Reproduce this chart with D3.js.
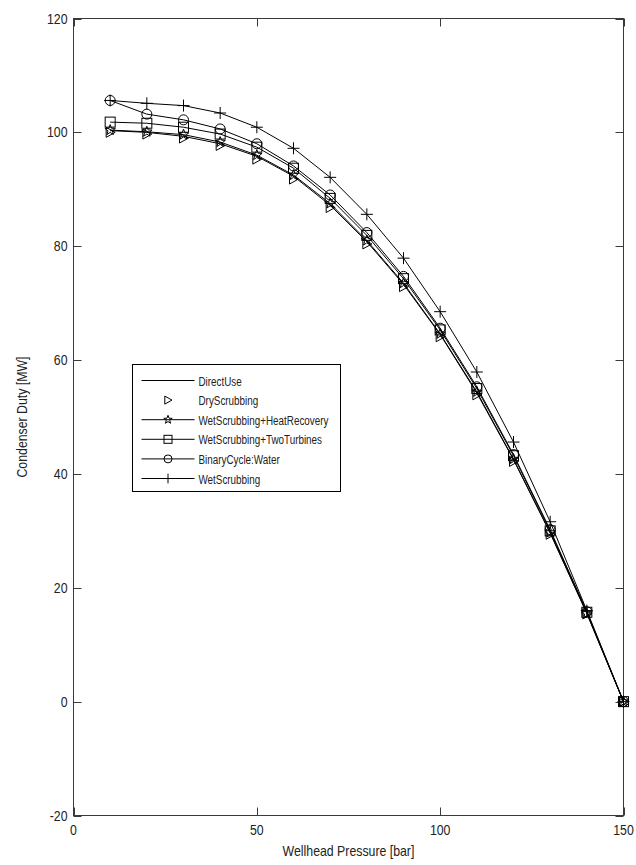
<!DOCTYPE html>
<html>
<head>
<meta charset="utf-8">
<script src="https://cdn.jsdelivr.net/npm/d3@7"></script>
<style>
  body { margin: 0; background: #fff; }
  svg text { font-family: "Liberation Sans", Arial, sans-serif; fill: #222; }
</style>
</head>
<body>
<div id="chart"></div>
<script>
// Condenser duty vs wellhead pressure, one series per process variant
const pressure = [10, 20, 30, 40, 50, 60, 70, 80, 90, 100, 110, 120, 130, 140, 150];

const directUse      = [100.3, 100.0, 99.3, 98.0, 95.8, 92.3, 87.2, 80.8, 73.3, 64.5, 54.2, 42.5, 29.6, 15.5, 0];
const dryScrubbing   = [100.0, 99.7, 99.0, 97.7, 95.3, 91.8, 86.8, 80.4, 72.9, 64.1, 53.9, 42.2, 29.4, 15.4, 0];
const wetHeatRecov   = [100.4, 100.1, 99.6, 98.3, 96.0, 92.5, 87.5, 81.0, 73.5, 64.6, 54.4, 42.6, 29.7, 15.5, 0];
const wetTwoTurbines = [101.8, 101.6, 100.9, 99.7, 97.4, 93.7, 88.4, 81.9, 74.3, 65.3, 55.0, 43.2, 30.0, 15.7, 0];
const binaryWater    = [105.6, 103.2, 102.2, 100.6, 98.0, 94.1, 89.0, 82.4, 74.7, 65.6, 55.3, 43.4, 30.2, 15.8, 0];
const wetScrubbing   = [105.6, 105.1, 104.7, 103.4, 100.9, 97.2, 92.1, 85.6, 77.9, 68.5, 57.9, 45.6, 31.6, 16.0, 0];

const seriesNames = ['DirectUse', 'DryScrubbing', 'WetScrubbing+HeatRecovery',
  'WetScrubbing+TwoTurbines', 'BinaryCycle:Water', 'WetScrubbing'];
const seriesValues = [directUse, dryScrubbing, wetHeatRecov, wetTwoTurbines, binaryWater, wetScrubbing];
const seriesMarker = ['none', 'triangle', 'star', 'square', 'circle', 'plus'];
const seriesLine = [true, false, true, true, true, true];

const xTicks = [0, 50, 100, 150];
const yTicks = [-20, 0, 20, 40, 60, 80, 100, 120];

const width = 636, height = 865;
const margin = { left: 73.5, right: 12.5, top: 18.5, bottom: 49.5 };

const svg = d3.select('#chart').append('svg')
  .attr('width', width)
  .attr('height', height);

const x = d3.scaleLinear().domain([0, 150]).range([margin.left, width - margin.right]);
const y = d3.scaleLinear().domain([-20, 120]).range([height - margin.bottom, margin.top]);

const axisColor = '#3a3a3a';
const tickLen = 8;

// narrow-ish text like the old bitmap font
function label(parent, tx, ty, str, anchor, size, rot, sx) {
  return parent.append('text')
    .attr('transform', `translate(${tx},${ty})` + (rot ? ` rotate(${rot})` : '') + ` scale(${sx || 0.88},1)`)
    .attr('text-anchor', anchor)
    .attr('font-size', size)
    .text(str);
}

// box
svg.append('rect')
  .attr('x', x(0)).attr('y', y(120))
  .attr('width', x(150) - x(0)).attr('height', y(-20) - y(120))
  .attr('fill', 'none').attr('stroke', axisColor).attr('stroke-width', 1);

// ticks inside on all four sides
const tickG = svg.append('g').attr('stroke', axisColor).attr('stroke-width', 1);
xTicks.forEach(t => {
  tickG.append('line').attr('x1', Math.round(x(t)) + 0.5).attr('x2', Math.round(x(t)) + 0.5)
    .attr('y1', y(-20)).attr('y2', y(-20) - tickLen);
  tickG.append('line').attr('x1', Math.round(x(t)) + 0.5).attr('x2', Math.round(x(t)) + 0.5)
    .attr('y1', y(120)).attr('y2', y(120) + tickLen);
});
yTicks.forEach(t => {
  tickG.append('line').attr('x1', x(0)).attr('x2', x(0) + tickLen)
    .attr('y1', Math.round(y(t)) + 0.5).attr('y2', Math.round(y(t)) + 0.5);
  tickG.append('line').attr('x1', x(150)).attr('x2', x(150) - tickLen)
    .attr('y1', Math.round(y(t)) + 0.5).attr('y2', Math.round(y(t)) + 0.5);
});

// tick labels
const xl = svg.append('g');
xTicks.forEach(d => label(xl, x(d), y(-20) + 19, d, 'middle', 14));
const yl = svg.append('g');
yTicks.forEach(d => label(yl, x(0) - 6, y(d) + 5, d, 'end', 14));

// axis titles
label(svg, (x(0) + x(150)) / 2, y(-20) + 40, 'Wellhead Pressure [bar]', 'middle', 14);
label(svg, 27, (y(120) + y(-20)) / 2, 'Condenser Duty [MW]', 'middle', 14, -90);

// marker drawing, k scales the size (legend uses smaller ones)
function drawMarker(g, type, cx, cy, k = 1) {
  const s = 5 * k;
  if (type === 'triangle') {
    g.append('path').attr('d', `M${cx - 4 * k},${cy - 5 * k}L${cx + 5 * k},${cy}L${cx - 4 * k},${cy + 5 * k}Z`);
  } else if (type === 'square') {
    g.append('rect').attr('x', cx - s).attr('y', cy - s).attr('width', 2 * s).attr('height', 2 * s);
  } else if (type === 'circle') {
    g.append('circle').attr('cx', cx).attr('cy', cy).attr('r', s);
  } else if (type === 'plus') {
    g.append('path').attr('d', `M${cx - 6 * k},${cy}H${cx + 6 * k}M${cx},${cy - 6 * k}V${cy + 6 * k}`);
  } else if (type === 'star') {
    const pts = [];
    for (let i = 0; i < 10; i++) {
      const r = (i % 2 === 0 ? 5.5 : 2.3) * k;
      const a = -Math.PI / 2 + i * Math.PI / 5;
      pts.push([cx + r * Math.cos(a), cy + r * Math.sin(a)]);
    }
    g.append('path').attr('d', 'M' + pts.map(p => p.join(',')).join('L') + 'Z');
  }
}

const line = d3.line().x((d, i) => x(pressure[i])).y(d => y(d));

const plotG = svg.append('g');
seriesValues.forEach((vals, k) => {
  const g = plotG.append('g')
    .attr('fill', 'none').attr('stroke', '#000').attr('stroke-width', 1);
  if (seriesLine[k]) {
    g.append('path').attr('d', line(vals));
  }
  if (seriesMarker[k] !== 'none') {
    vals.forEach((v, i) => drawMarker(g, seriesMarker[k], x(pressure[i]), y(v)));
  }
});

// legend
const legX = 132.5, legY = 364.5, legW = 208, legH = 127;
const legend = svg.append('g');
legend.append('rect')
  .attr('x', legX).attr('y', legY).attr('width', legW).attr('height', legH)
  .attr('fill', '#fff').attr('stroke', '#000').attr('stroke-width', 1);

const legTexts = [];
seriesNames.forEach((name, k) => {
  const ry = legY + 16 + k * 19.6;
  const g = legend.append('g')
    .attr('fill', 'none').attr('stroke', '#000').attr('stroke-width', 1);
  if (seriesLine[k]) {
    g.append('line').attr('x1', legX + 9).attr('x2', legX + 62).attr('y1', ry).attr('y2', ry);
  }
  if (seriesMarker[k] !== 'none') drawMarker(g, seriesMarker[k], legX + 35.5, ry, 0.8);
  legTexts.push({ t: label(legend, legX + 66, ry + 5, name, 'start', 13.5, 0, 1), ry });
});
// one common horizontal squeeze so the longest entry sits inside the box
const longest = d3.max(legTexts, d => d.t.node().getComputedTextLength());
const sq = Math.min(1, (legW - 78) / longest);
legTexts.forEach(d => d.t.attr('transform', `translate(${legX + 66},${d.ry + 5}) scale(${sq},1)`));
</script>
</body>
</html>
